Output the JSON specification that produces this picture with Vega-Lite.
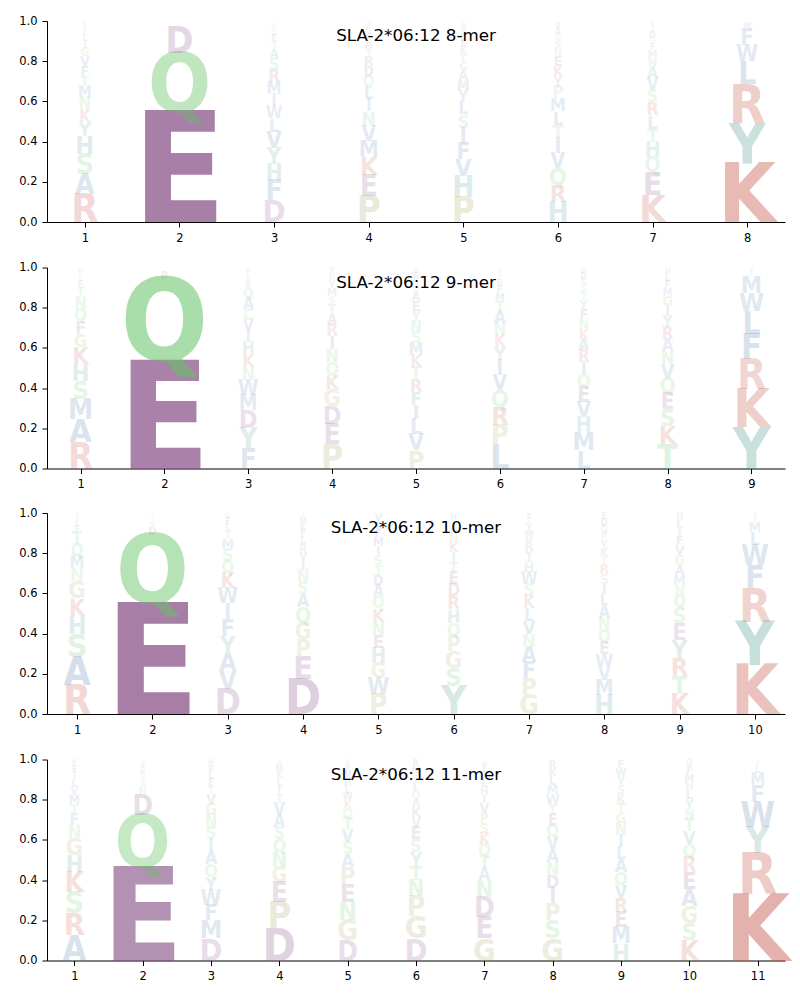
{
"$schema":"https://vega.github.io/schema/vega-lite/v6.json",
"padding":{"left":18,"top":15,"right":10,"bottom":5},
"spacing":8.5,
"config":{"view":{"stroke":null},"axis":{"grid":false,"domainColor":"black","tickColor":"black","labelColor":"black","labelFont":"DejaVu Sans","labelFontSize":11.5,"tickSize":5,"labelPadding":5,"title":null},"title":{"font":"DejaVu Sans","fontSize":16.7,"fontWeight":"normal","color":"black","anchor":"middle","baseline":"alphabetic","offset":-30}},
"data":{"values":[
{"n":8,"pos":1,"aa":"R","p":0.14},{"n":8,"pos":1,"aa":"A","p":0.10},{"n":8,"pos":1,"aa":"S","p":0.10},{"n":8,"pos":1,"aa":"H","p":0.09},{"n":8,"pos":1,"aa":"K","p":0.06},{"n":8,"pos":1,"aa":"M","p":0.055},{"n":8,"pos":1,"aa":"G","p":0.045},{"n":8,"pos":1,"aa":"Y","p":0.07},{"n":8,"pos":1,"aa":"T","p":0.05},{"n":8,"pos":1,"aa":"F","p":0.05},{"n":8,"pos":1,"aa":"N","p":0.06},{"n":8,"pos":1,"aa":"V","p":0.05},{"n":8,"pos":1,"aa":"I","p":0.03},{"n":8,"pos":1,"aa":"L","p":0.03},{"n":8,"pos":1,"aa":"E","p":0.025},{"n":8,"pos":1,"aa":"Q","p":0.02},{"n":8,"pos":1,"aa":"W","p":0.015},{"n":8,"pos":1,"aa":"D","p":0.01},
{"n":8,"pos":2,"aa":"E","p":0.545},{"n":8,"pos":2,"aa":"Q","p":0.295},{"n":8,"pos":2,"aa":"D","p":0.135},{"n":8,"pos":2,"aa":"N","p":0.01},{"n":8,"pos":2,"aa":"S","p":0.008},{"n":8,"pos":2,"aa":"T","p":0.007},
{"n":8,"pos":3,"aa":"D","p":0.11},{"n":8,"pos":3,"aa":"F","p":0.10},{"n":8,"pos":3,"aa":"H","p":0.08},{"n":8,"pos":3,"aa":"Y","p":0.08},{"n":8,"pos":3,"aa":"W","p":0.06},{"n":8,"pos":3,"aa":"I","p":0.06},{"n":8,"pos":3,"aa":"M","p":0.06},{"n":8,"pos":3,"aa":"A","p":0.045},{"n":8,"pos":3,"aa":"R","p":0.06},{"n":8,"pos":3,"aa":"L","p":0.065},{"n":8,"pos":3,"aa":"S","p":0.06},{"n":8,"pos":3,"aa":"V","p":0.08},{"n":8,"pos":3,"aa":"T","p":0.04},{"n":8,"pos":3,"aa":"E","p":0.03},{"n":8,"pos":3,"aa":"Q","p":0.03},{"n":8,"pos":3,"aa":"P","p":0.02},{"n":8,"pos":3,"aa":"C","p":0.015},{"n":8,"pos":3,"aa":"K","p":0.005},
{"n":8,"pos":4,"aa":"P","p":0.13},{"n":8,"pos":4,"aa":"E","p":0.105},{"n":8,"pos":4,"aa":"K","p":0.09},{"n":8,"pos":4,"aa":"V","p":0.075},{"n":8,"pos":4,"aa":"I","p":0.06},{"n":8,"pos":4,"aa":"L","p":0.06},{"n":8,"pos":4,"aa":"Q","p":0.055},{"n":8,"pos":4,"aa":"D","p":0.05},{"n":8,"pos":4,"aa":"T","p":0.04},{"n":8,"pos":4,"aa":"R","p":0.05},{"n":8,"pos":4,"aa":"N","p":0.07},{"n":8,"pos":4,"aa":"M","p":0.08},{"n":8,"pos":4,"aa":"A","p":0.04},{"n":8,"pos":4,"aa":"S","p":0.03},{"n":8,"pos":4,"aa":"G","p":0.03},{"n":8,"pos":4,"aa":"H","p":0.02},{"n":8,"pos":4,"aa":"W","p":0.015},
{"n":8,"pos":5,"aa":"P","p":0.125},{"n":8,"pos":5,"aa":"H","p":0.105},{"n":8,"pos":5,"aa":"V","p":0.085},{"n":8,"pos":5,"aa":"I","p":0.075},{"n":8,"pos":5,"aa":"F","p":0.08},{"n":8,"pos":5,"aa":"L","p":0.06},{"n":8,"pos":5,"aa":"Y","p":0.06},{"n":8,"pos":5,"aa":"G","p":0.04},{"n":8,"pos":5,"aa":"M","p":0.05},{"n":8,"pos":5,"aa":"A","p":0.05},{"n":8,"pos":5,"aa":"K","p":0.035},{"n":8,"pos":5,"aa":"S","p":0.065},{"n":8,"pos":5,"aa":"T","p":0.04},{"n":8,"pos":5,"aa":"E","p":0.03},{"n":8,"pos":5,"aa":"D","p":0.03},{"n":8,"pos":5,"aa":"N","p":0.03},{"n":8,"pos":5,"aa":"W","p":0.02},{"n":8,"pos":5,"aa":"Q","p":0.02},
{"n":8,"pos":6,"aa":"H","p":0.10},{"n":8,"pos":6,"aa":"R","p":0.085},{"n":8,"pos":6,"aa":"Q","p":0.085},{"n":8,"pos":6,"aa":"V","p":0.075},{"n":8,"pos":6,"aa":"I","p":0.075},{"n":8,"pos":6,"aa":"T","p":0.065},{"n":8,"pos":6,"aa":"L","p":0.065},{"n":8,"pos":6,"aa":"P","p":0.06},{"n":8,"pos":6,"aa":"M","p":0.065},{"n":8,"pos":6,"aa":"Y","p":0.05},{"n":8,"pos":6,"aa":"K","p":0.05},{"n":8,"pos":6,"aa":"E","p":0.05},{"n":8,"pos":6,"aa":"N","p":0.04},{"n":8,"pos":6,"aa":"S","p":0.04},{"n":8,"pos":6,"aa":"G","p":0.03},{"n":8,"pos":6,"aa":"A","p":0.03},{"n":8,"pos":6,"aa":"D","p":0.025},{"n":8,"pos":6,"aa":"F","p":0.01},
{"n":8,"pos":7,"aa":"K","p":0.135},{"n":8,"pos":7,"aa":"E","p":0.115},{"n":8,"pos":7,"aa":"Q","p":0.075},{"n":8,"pos":7,"aa":"H","p":0.075},{"n":8,"pos":7,"aa":"T","p":0.065},{"n":8,"pos":7,"aa":"L","p":0.065},{"n":8,"pos":7,"aa":"R","p":0.065},{"n":8,"pos":7,"aa":"S","p":0.06},{"n":8,"pos":7,"aa":"V","p":0.06},{"n":8,"pos":7,"aa":"A","p":0.055},{"n":8,"pos":7,"aa":"N","p":0.045},{"n":8,"pos":7,"aa":"M","p":0.04},{"n":8,"pos":7,"aa":"F","p":0.03},{"n":8,"pos":7,"aa":"G","p":0.03},{"n":8,"pos":7,"aa":"D","p":0.03},{"n":8,"pos":7,"aa":"I","p":0.03},{"n":8,"pos":7,"aa":"P","p":0.025},
{"n":8,"pos":8,"aa":"K","p":0.295},{"n":8,"pos":8,"aa":"Y","p":0.20},{"n":8,"pos":8,"aa":"R","p":0.19},{"n":8,"pos":8,"aa":"L","p":0.115},{"n":8,"pos":8,"aa":"W","p":0.08},{"n":8,"pos":8,"aa":"F","p":0.079},{"n":8,"pos":8,"aa":"M","p":0.03},{"n":8,"pos":8,"aa":"I","p":0.01},
{"n":9,"pos":1,"aa":"R","p":0.13},{"n":9,"pos":1,"aa":"A","p":0.115},{"n":9,"pos":1,"aa":"S","p":0.09},{"n":9,"pos":1,"aa":"M","p":0.10},{"n":9,"pos":1,"aa":"H","p":0.085},{"n":9,"pos":1,"aa":"K","p":0.085},{"n":9,"pos":1,"aa":"G","p":0.065},{"n":9,"pos":1,"aa":"Q","p":0.06},{"n":9,"pos":1,"aa":"T","p":0.05},{"n":9,"pos":1,"aa":"F","p":0.065},{"n":9,"pos":1,"aa":"N","p":0.06},{"n":9,"pos":1,"aa":"E","p":0.03},{"n":9,"pos":1,"aa":"L","p":0.025},{"n":9,"pos":1,"aa":"Y","p":0.02},{"n":9,"pos":1,"aa":"W","p":0.02},
{"n":9,"pos":2,"aa":"E","p":0.535},{"n":9,"pos":2,"aa":"Q","p":0.41},{"n":9,"pos":2,"aa":"D","p":0.035},{"n":9,"pos":2,"aa":"N","p":0.012},{"n":9,"pos":2,"aa":"S","p":0.008},
{"n":9,"pos":3,"aa":"F","p":0.10},{"n":9,"pos":3,"aa":"Y","p":0.10},{"n":9,"pos":3,"aa":"D","p":0.09},{"n":9,"pos":3,"aa":"M","p":0.075},{"n":9,"pos":3,"aa":"W","p":0.075},{"n":9,"pos":3,"aa":"H","p":0.06},{"n":9,"pos":3,"aa":"N","p":0.065},{"n":9,"pos":3,"aa":"I","p":0.055},{"n":9,"pos":3,"aa":"K","p":0.065},{"n":9,"pos":3,"aa":"Q","p":0.05},{"n":9,"pos":3,"aa":"V","p":0.055},{"n":9,"pos":3,"aa":"C","p":0.055},{"n":9,"pos":3,"aa":"A","p":0.055},{"n":9,"pos":3,"aa":"R","p":0.03},{"n":9,"pos":3,"aa":"T","p":0.025},{"n":9,"pos":3,"aa":"L","p":0.025},{"n":9,"pos":3,"aa":"E","p":0.02},
{"n":9,"pos":4,"aa":"P","p":0.12},{"n":9,"pos":4,"aa":"E","p":0.10},{"n":9,"pos":4,"aa":"D","p":0.09},{"n":9,"pos":4,"aa":"G","p":0.085},{"n":9,"pos":4,"aa":"K","p":0.07},{"n":9,"pos":4,"aa":"Q","p":0.065},{"n":9,"pos":4,"aa":"R","p":0.06},{"n":9,"pos":4,"aa":"S","p":0.04},{"n":9,"pos":4,"aa":"A","p":0.05},{"n":9,"pos":4,"aa":"N","p":0.065},{"n":9,"pos":4,"aa":"I","p":0.065},{"n":9,"pos":4,"aa":"T","p":0.05},{"n":9,"pos":4,"aa":"M","p":0.04},{"n":9,"pos":4,"aa":"Y","p":0.04},{"n":9,"pos":4,"aa":"H","p":0.03},{"n":9,"pos":4,"aa":"F","p":0.03},
{"n":9,"pos":5,"aa":"P","p":0.09},{"n":9,"pos":5,"aa":"V","p":0.08},{"n":9,"pos":5,"aa":"L","p":0.075},{"n":9,"pos":5,"aa":"I","p":0.07},{"n":9,"pos":5,"aa":"F","p":0.065},{"n":9,"pos":5,"aa":"T","p":0.06},{"n":9,"pos":5,"aa":"R","p":0.065},{"n":9,"pos":5,"aa":"K","p":0.06},{"n":9,"pos":5,"aa":"M","p":0.06},{"n":9,"pos":5,"aa":"S","p":0.055},{"n":9,"pos":5,"aa":"N","p":0.055},{"n":9,"pos":5,"aa":"Y","p":0.05},{"n":9,"pos":5,"aa":"E","p":0.05},{"n":9,"pos":5,"aa":"A","p":0.045},{"n":9,"pos":5,"aa":"Q","p":0.035},{"n":9,"pos":5,"aa":"G","p":0.03},{"n":9,"pos":5,"aa":"W","p":0.03},{"n":9,"pos":5,"aa":"D","p":0.025},
{"n":9,"pos":6,"aa":"P","p":0.095},{"n":9,"pos":6,"aa":"V","p":0.075},{"n":9,"pos":6,"aa":"I","p":0.075},{"n":9,"pos":6,"aa":"Q","p":0.085},{"n":9,"pos":6,"aa":"K","p":0.06},{"n":9,"pos":6,"aa":"L","p":0.12},{"n":9,"pos":6,"aa":"T","p":0.05},{"n":9,"pos":6,"aa":"R","p":0.09},{"n":9,"pos":6,"aa":"N","p":0.06},{"n":9,"pos":6,"aa":"Y","p":0.065},{"n":9,"pos":6,"aa":"A","p":0.06},{"n":9,"pos":6,"aa":"M","p":0.04},{"n":9,"pos":6,"aa":"E","p":0.02},{"n":9,"pos":6,"aa":"S","p":0.02},{"n":9,"pos":6,"aa":"G","p":0.02},{"n":9,"pos":6,"aa":"F","p":0.035},{"n":9,"pos":6,"aa":"H","p":0.03},
{"n":9,"pos":7,"aa":"L","p":0.09},{"n":9,"pos":7,"aa":"M","p":0.09},{"n":9,"pos":7,"aa":"H","p":0.075},{"n":9,"pos":7,"aa":"V","p":0.075},{"n":9,"pos":7,"aa":"I","p":0.06},{"n":9,"pos":7,"aa":"Q","p":0.065},{"n":9,"pos":7,"aa":"E","p":0.075},{"n":9,"pos":7,"aa":"K","p":0.05},{"n":9,"pos":7,"aa":"N","p":0.05},{"n":9,"pos":7,"aa":"T","p":0.04},{"n":9,"pos":7,"aa":"R","p":0.06},{"n":9,"pos":7,"aa":"F","p":0.05},{"n":9,"pos":7,"aa":"A","p":0.055},{"n":9,"pos":7,"aa":"Y","p":0.045},{"n":9,"pos":7,"aa":"S","p":0.035},{"n":9,"pos":7,"aa":"G","p":0.03},{"n":9,"pos":7,"aa":"W","p":0.025},{"n":9,"pos":7,"aa":"D","p":0.03},
{"n":9,"pos":8,"aa":"T","p":0.12},{"n":9,"pos":8,"aa":"K","p":0.09},{"n":9,"pos":8,"aa":"S","p":0.085},{"n":9,"pos":8,"aa":"Q","p":0.075},{"n":9,"pos":8,"aa":"E","p":0.08},{"n":9,"pos":8,"aa":"A","p":0.06},{"n":9,"pos":8,"aa":"N","p":0.065},{"n":9,"pos":8,"aa":"R","p":0.06},{"n":9,"pos":8,"aa":"I","p":0.05},{"n":9,"pos":8,"aa":"V","p":0.07},{"n":9,"pos":8,"aa":"G","p":0.05},{"n":9,"pos":8,"aa":"Y","p":0.055},{"n":9,"pos":8,"aa":"M","p":0.04},{"n":9,"pos":8,"aa":"F","p":0.035},{"n":9,"pos":8,"aa":"H","p":0.03},{"n":9,"pos":8,"aa":"L","p":0.035},
{"n":9,"pos":9,"aa":"Y","p":0.205},{"n":9,"pos":9,"aa":"K","p":0.19},{"n":9,"pos":9,"aa":"R","p":0.15},{"n":9,"pos":9,"aa":"F","p":0.125},{"n":9,"pos":9,"aa":"L","p":0.115},{"n":9,"pos":9,"aa":"W","p":0.09},{"n":9,"pos":9,"aa":"M","p":0.085},{"n":9,"pos":9,"aa":"I","p":0.02},{"n":9,"pos":9,"aa":"V","p":0.02},
{"n":10,"pos":1,"aa":"R","p":0.145},{"n":10,"pos":1,"aa":"A","p":0.14},{"n":10,"pos":1,"aa":"S","p":0.115},{"n":10,"pos":1,"aa":"H","p":0.09},{"n":10,"pos":1,"aa":"K","p":0.085},{"n":10,"pos":1,"aa":"G","p":0.085},{"n":10,"pos":1,"aa":"M","p":0.06},{"n":10,"pos":1,"aa":"Q","p":0.06},{"n":10,"pos":1,"aa":"N","p":0.065},{"n":10,"pos":1,"aa":"T","p":0.06},{"n":10,"pos":1,"aa":"F","p":0.03},{"n":10,"pos":1,"aa":"L","p":0.025},{"n":10,"pos":1,"aa":"E","p":0.02},{"n":10,"pos":1,"aa":"Y","p":0.02},
{"n":10,"pos":2,"aa":"E","p":0.55},{"n":10,"pos":2,"aa":"Q","p":0.34},{"n":10,"pos":2,"aa":"D","p":0.04},{"n":10,"pos":2,"aa":"N","p":0.025},{"n":10,"pos":2,"aa":"S","p":0.02},{"n":10,"pos":2,"aa":"T","p":0.015},{"n":10,"pos":2,"aa":"H","p":0.01},
{"n":10,"pos":3,"aa":"D","p":0.125},{"n":10,"pos":3,"aa":"Y","p":0.085},{"n":10,"pos":3,"aa":"F","p":0.085},{"n":10,"pos":3,"aa":"I","p":0.075},{"n":10,"pos":3,"aa":"V","p":0.09},{"n":10,"pos":3,"aa":"M","p":0.05},{"n":10,"pos":3,"aa":"Q","p":0.06},{"n":10,"pos":3,"aa":"A","p":0.09},{"n":10,"pos":3,"aa":"W","p":0.075},{"n":10,"pos":3,"aa":"S","p":0.06},{"n":10,"pos":3,"aa":"K","p":0.075},{"n":10,"pos":3,"aa":"T","p":0.04},{"n":10,"pos":3,"aa":"L","p":0.035},{"n":10,"pos":3,"aa":"E","p":0.03},{"n":10,"pos":3,"aa":"G","p":0.025},
{"n":10,"pos":4,"aa":"D","p":0.175},{"n":10,"pos":4,"aa":"E","p":0.115},{"n":10,"pos":4,"aa":"P","p":0.085},{"n":10,"pos":4,"aa":"G","p":0.08},{"n":10,"pos":4,"aa":"Q","p":0.075},{"n":10,"pos":4,"aa":"S","p":0.06},{"n":10,"pos":4,"aa":"N","p":0.06},{"n":10,"pos":4,"aa":"A","p":0.065},{"n":10,"pos":4,"aa":"K","p":0.03},{"n":10,"pos":4,"aa":"I","p":0.05},{"n":10,"pos":4,"aa":"V","p":0.04},{"n":10,"pos":4,"aa":"L","p":0.035},{"n":10,"pos":4,"aa":"M","p":0.03},{"n":10,"pos":4,"aa":"T","p":0.025},{"n":10,"pos":4,"aa":"R","p":0.04},{"n":10,"pos":4,"aa":"F","p":0.035},
{"n":10,"pos":5,"aa":"P","p":0.10},{"n":10,"pos":5,"aa":"G","p":0.075},{"n":10,"pos":5,"aa":"E","p":0.065},{"n":10,"pos":5,"aa":"H","p":0.075},{"n":10,"pos":5,"aa":"D","p":0.05},{"n":10,"pos":5,"aa":"N","p":0.065},{"n":10,"pos":5,"aa":"A","p":0.055},{"n":10,"pos":5,"aa":"I","p":0.045},{"n":10,"pos":5,"aa":"T","p":0.05},{"n":10,"pos":5,"aa":"K","p":0.065},{"n":10,"pos":5,"aa":"Q","p":0.06},{"n":10,"pos":5,"aa":"S","p":0.05},{"n":10,"pos":5,"aa":"W","p":0.08},{"n":10,"pos":5,"aa":"M","p":0.045},{"n":10,"pos":5,"aa":"F","p":0.04},{"n":10,"pos":5,"aa":"L","p":0.04},{"n":10,"pos":5,"aa":"V","p":0.04},
{"n":10,"pos":6,"aa":"G","p":0.085},{"n":10,"pos":6,"aa":"Q","p":0.065},{"n":10,"pos":6,"aa":"Y","p":0.14},{"n":10,"pos":6,"aa":"P","p":0.075},{"n":10,"pos":6,"aa":"D","p":0.06},{"n":10,"pos":6,"aa":"T","p":0.05},{"n":10,"pos":6,"aa":"H","p":0.065},{"n":10,"pos":6,"aa":"E","p":0.06},{"n":10,"pos":6,"aa":"R","p":0.065},{"n":10,"pos":6,"aa":"S","p":0.09},{"n":10,"pos":6,"aa":"I","p":0.05},{"n":10,"pos":6,"aa":"K","p":0.05},{"n":10,"pos":6,"aa":"N","p":0.045},{"n":10,"pos":6,"aa":"A","p":0.04},{"n":10,"pos":6,"aa":"V","p":0.03},{"n":10,"pos":6,"aa":"M","p":0.025},{"n":10,"pos":6,"aa":"L","p":0.005},
{"n":10,"pos":7,"aa":"G","p":0.095},{"n":10,"pos":7,"aa":"P","p":0.085},{"n":10,"pos":7,"aa":"N","p":0.065},{"n":10,"pos":7,"aa":"V","p":0.065},{"n":10,"pos":7,"aa":"L","p":0.06},{"n":10,"pos":7,"aa":"K","p":0.06},{"n":10,"pos":7,"aa":"I","p":0.04},{"n":10,"pos":7,"aa":"F","p":0.08},{"n":10,"pos":7,"aa":"A","p":0.075},{"n":10,"pos":7,"aa":"D","p":0.04},{"n":10,"pos":7,"aa":"H","p":0.05},{"n":10,"pos":7,"aa":"S","p":0.06},{"n":10,"pos":7,"aa":"W","p":0.06},{"n":10,"pos":7,"aa":"R","p":0.04},{"n":10,"pos":7,"aa":"M","p":0.035},{"n":10,"pos":7,"aa":"Y","p":0.035},{"n":10,"pos":7,"aa":"T","p":0.03},{"n":10,"pos":7,"aa":"E","p":0.025},
{"n":10,"pos":8,"aa":"H","p":0.095},{"n":10,"pos":8,"aa":"E","p":0.06},{"n":10,"pos":8,"aa":"L","p":0.055},{"n":10,"pos":8,"aa":"Q","p":0.06},{"n":10,"pos":8,"aa":"M","p":0.075},{"n":10,"pos":8,"aa":"I","p":0.05},{"n":10,"pos":8,"aa":"N","p":0.06},{"n":10,"pos":8,"aa":"V","p":0.065},{"n":10,"pos":8,"aa":"S","p":0.05},{"n":10,"pos":8,"aa":"R","p":0.05},{"n":10,"pos":8,"aa":"T","p":0.04},{"n":10,"pos":8,"aa":"A","p":0.06},{"n":10,"pos":8,"aa":"K","p":0.04},{"n":10,"pos":8,"aa":"W","p":0.065},{"n":10,"pos":8,"aa":"Y","p":0.04},{"n":10,"pos":8,"aa":"P","p":0.035},{"n":10,"pos":8,"aa":"G","p":0.035},{"n":10,"pos":8,"aa":"D","p":0.035},{"n":10,"pos":8,"aa":"F","p":0.03},
{"n":10,"pos":9,"aa":"K","p":0.10},{"n":10,"pos":9,"aa":"T","p":0.09},{"n":10,"pos":9,"aa":"E","p":0.085},{"n":10,"pos":9,"aa":"R","p":0.09},{"n":10,"pos":9,"aa":"Q","p":0.06},{"n":10,"pos":9,"aa":"S","p":0.075},{"n":10,"pos":9,"aa":"N","p":0.05},{"n":10,"pos":9,"aa":"M","p":0.05},{"n":10,"pos":9,"aa":"A","p":0.05},{"n":10,"pos":9,"aa":"G","p":0.05},{"n":10,"pos":9,"aa":"I","p":0.04},{"n":10,"pos":9,"aa":"Y","p":0.09},{"n":10,"pos":9,"aa":"V","p":0.05},{"n":10,"pos":9,"aa":"F","p":0.045},{"n":10,"pos":9,"aa":"L","p":0.04},{"n":10,"pos":9,"aa":"H","p":0.035},
{"n":10,"pos":10,"aa":"K","p":0.245},{"n":10,"pos":10,"aa":"Y","p":0.215},{"n":10,"pos":10,"aa":"R","p":0.165},{"n":10,"pos":10,"aa":"F","p":0.115},{"n":10,"pos":10,"aa":"W","p":0.10},{"n":10,"pos":10,"aa":"L","p":0.065},{"n":10,"pos":10,"aa":"M","p":0.05},{"n":10,"pos":10,"aa":"I","p":0.025},{"n":10,"pos":10,"aa":"V","p":0.02},
{"n":11,"pos":1,"aa":"A","p":0.125},{"n":11,"pos":1,"aa":"R","p":0.11},{"n":11,"pos":1,"aa":"S","p":0.105},{"n":11,"pos":1,"aa":"K","p":0.10},{"n":11,"pos":1,"aa":"H","p":0.085},{"n":11,"pos":1,"aa":"G","p":0.085},{"n":11,"pos":1,"aa":"N","p":0.065},{"n":11,"pos":1,"aa":"T","p":0.05},{"n":11,"pos":1,"aa":"F","p":0.055},{"n":11,"pos":1,"aa":"M","p":0.045},{"n":11,"pos":1,"aa":"V","p":0.04},{"n":11,"pos":1,"aa":"L","p":0.04},{"n":11,"pos":1,"aa":"I","p":0.035},{"n":11,"pos":1,"aa":"E","p":0.03},{"n":11,"pos":1,"aa":"Y","p":0.03},
{"n":11,"pos":2,"aa":"E","p":0.465},{"n":11,"pos":2,"aa":"Q","p":0.26},{"n":11,"pos":2,"aa":"D","p":0.10},{"n":11,"pos":2,"aa":"N","p":0.04},{"n":11,"pos":2,"aa":"S","p":0.035},{"n":11,"pos":2,"aa":"T","p":0.03},{"n":11,"pos":2,"aa":"H","p":0.025},{"n":11,"pos":2,"aa":"A","p":0.025},{"n":11,"pos":2,"aa":"G","p":0.02},
{"n":11,"pos":3,"aa":"D","p":0.11},{"n":11,"pos":3,"aa":"M","p":0.09},{"n":11,"pos":3,"aa":"F","p":0.075},{"n":11,"pos":3,"aa":"W","p":0.075},{"n":11,"pos":3,"aa":"Y","p":0.065},{"n":11,"pos":3,"aa":"I","p":0.06},{"n":11,"pos":3,"aa":"Q","p":0.065},{"n":11,"pos":3,"aa":"V","p":0.05},{"n":11,"pos":3,"aa":"S","p":0.06},{"n":11,"pos":3,"aa":"N","p":0.06},{"n":11,"pos":3,"aa":"E","p":0.035},{"n":11,"pos":3,"aa":"G","p":0.055},{"n":11,"pos":3,"aa":"A","p":0.065},{"n":11,"pos":3,"aa":"T","p":0.04},{"n":11,"pos":3,"aa":"L","p":0.035},{"n":11,"pos":3,"aa":"R","p":0.03},{"n":11,"pos":3,"aa":"H","p":0.03},
{"n":11,"pos":4,"aa":"D","p":0.16},{"n":11,"pos":4,"aa":"P","p":0.13},{"n":11,"pos":4,"aa":"E","p":0.10},{"n":11,"pos":4,"aa":"G","p":0.075},{"n":11,"pos":4,"aa":"N","p":0.075},{"n":11,"pos":4,"aa":"S","p":0.06},{"n":11,"pos":4,"aa":"A","p":0.06},{"n":11,"pos":4,"aa":"Q","p":0.065},{"n":11,"pos":4,"aa":"I","p":0.04},{"n":11,"pos":4,"aa":"V","p":0.06},{"n":11,"pos":4,"aa":"T","p":0.045},{"n":11,"pos":4,"aa":"L","p":0.04},{"n":11,"pos":4,"aa":"K","p":0.03},{"n":11,"pos":4,"aa":"M","p":0.03},{"n":11,"pos":4,"aa":"R","p":0.025},{"n":11,"pos":4,"aa":"H","p":0.005},
{"n":11,"pos":5,"aa":"D","p":0.10},{"n":11,"pos":5,"aa":"G","p":0.10},{"n":11,"pos":5,"aa":"P","p":0.085},{"n":11,"pos":5,"aa":"N","p":0.09},{"n":11,"pos":5,"aa":"E","p":0.09},{"n":11,"pos":5,"aa":"S","p":0.06},{"n":11,"pos":5,"aa":"A","p":0.065},{"n":11,"pos":5,"aa":"Q","p":0.05},{"n":11,"pos":5,"aa":"V","p":0.06},{"n":11,"pos":5,"aa":"T","p":0.06},{"n":11,"pos":5,"aa":"K","p":0.04},{"n":11,"pos":5,"aa":"W","p":0.035},{"n":11,"pos":5,"aa":"L","p":0.035},{"n":11,"pos":5,"aa":"R","p":0.03},{"n":11,"pos":5,"aa":"H","p":0.035},{"n":11,"pos":5,"aa":"M","p":0.035},{"n":11,"pos":5,"aa":"I","p":0.03},
{"n":11,"pos":6,"aa":"D","p":0.11},{"n":11,"pos":6,"aa":"G","p":0.11},{"n":11,"pos":6,"aa":"P","p":0.10},{"n":11,"pos":6,"aa":"E","p":0.06},{"n":11,"pos":6,"aa":"T","p":0.07},{"n":11,"pos":6,"aa":"S","p":0.065},{"n":11,"pos":6,"aa":"N","p":0.08},{"n":11,"pos":6,"aa":"V","p":0.05},{"n":11,"pos":6,"aa":"Y","p":0.07},{"n":11,"pos":6,"aa":"K","p":0.05},{"n":11,"pos":6,"aa":"A","p":0.04},{"n":11,"pos":6,"aa":"Q","p":0.04},{"n":11,"pos":6,"aa":"R","p":0.035},{"n":11,"pos":6,"aa":"L","p":0.04},{"n":11,"pos":6,"aa":"I","p":0.04},{"n":11,"pos":6,"aa":"M","p":0.04},
{"n":11,"pos":7,"aa":"G","p":0.11},{"n":11,"pos":7,"aa":"D","p":0.10},{"n":11,"pos":7,"aa":"E","p":0.105},{"n":11,"pos":7,"aa":"N","p":0.085},{"n":11,"pos":7,"aa":"S","p":0.05},{"n":11,"pos":7,"aa":"P","p":0.05},{"n":11,"pos":7,"aa":"A","p":0.06},{"n":11,"pos":7,"aa":"K","p":0.055},{"n":11,"pos":7,"aa":"T","p":0.06},{"n":11,"pos":7,"aa":"Q","p":0.06},{"n":11,"pos":7,"aa":"V","p":0.05},{"n":11,"pos":7,"aa":"I","p":0.04},{"n":11,"pos":7,"aa":"H","p":0.04},{"n":11,"pos":7,"aa":"L","p":0.04},{"n":11,"pos":7,"aa":"F","p":0.035},{"n":11,"pos":7,"aa":"Y","p":0.035},{"n":11,"pos":7,"aa":"M","p":0.02},{"n":11,"pos":7,"aa":"R","p":0.005},
{"n":11,"pos":8,"aa":"G","p":0.11},{"n":11,"pos":8,"aa":"P","p":0.085},{"n":11,"pos":8,"aa":"I","p":0.075},{"n":11,"pos":8,"aa":"D","p":0.065},{"n":11,"pos":8,"aa":"N","p":0.065},{"n":11,"pos":8,"aa":"V","p":0.06},{"n":11,"pos":8,"aa":"S","p":0.09},{"n":11,"pos":8,"aa":"E","p":0.055},{"n":11,"pos":8,"aa":"A","p":0.065},{"n":11,"pos":8,"aa":"Q","p":0.06},{"n":11,"pos":8,"aa":"T","p":0.05},{"n":11,"pos":8,"aa":"W","p":0.05},{"n":11,"pos":8,"aa":"M","p":0.045},{"n":11,"pos":8,"aa":"L","p":0.045},{"n":11,"pos":8,"aa":"K","p":0.04},{"n":11,"pos":8,"aa":"R","p":0.04},
{"n":11,"pos":9,"aa":"H","p":0.085},{"n":11,"pos":9,"aa":"V","p":0.065},{"n":11,"pos":9,"aa":"E","p":0.075},{"n":11,"pos":9,"aa":"L","p":0.06},{"n":11,"pos":9,"aa":"Q","p":0.065},{"n":11,"pos":9,"aa":"G","p":0.05},{"n":11,"pos":9,"aa":"I","p":0.06},{"n":11,"pos":9,"aa":"N","p":0.06},{"n":11,"pos":9,"aa":"R","p":0.07},{"n":11,"pos":9,"aa":"K","p":0.045},{"n":11,"pos":9,"aa":"A","p":0.065},{"n":11,"pos":9,"aa":"M","p":0.08},{"n":11,"pos":9,"aa":"T","p":0.05},{"n":11,"pos":9,"aa":"S","p":0.045},{"n":11,"pos":9,"aa":"Y","p":0.045},{"n":11,"pos":9,"aa":"W","p":0.04},{"n":11,"pos":9,"aa":"F","p":0.04},
{"n":11,"pos":10,"aa":"S","p":0.085},{"n":11,"pos":10,"aa":"G","p":0.085},{"n":11,"pos":10,"aa":"A","p":0.085},{"n":11,"pos":10,"aa":"E","p":0.085},{"n":11,"pos":10,"aa":"T","p":0.06},{"n":11,"pos":10,"aa":"K","p":0.10},{"n":11,"pos":10,"aa":"Q","p":0.065},{"n":11,"pos":10,"aa":"R","p":0.075},{"n":11,"pos":10,"aa":"N","p":0.05},{"n":11,"pos":10,"aa":"V","p":0.065},{"n":11,"pos":10,"aa":"Y","p":0.05},{"n":11,"pos":10,"aa":"L","p":0.045},{"n":11,"pos":10,"aa":"H","p":0.04},{"n":11,"pos":10,"aa":"M","p":0.04},{"n":11,"pos":10,"aa":"F","p":0.04},{"n":11,"pos":10,"aa":"D","p":0.03},
{"n":11,"pos":11,"aa":"K","p":0.33},{"n":11,"pos":11,"aa":"R","p":0.205},{"n":11,"pos":11,"aa":"Y","p":0.13},{"n":11,"pos":11,"aa":"W","p":0.125},{"n":11,"pos":11,"aa":"F","p":0.085},{"n":11,"pos":11,"aa":"M","p":0.06},{"n":11,"pos":11,"aa":"L","p":0.035},{"n":11,"pos":11,"aa":"I","p":0.015},{"n":11,"pos":11,"aa":"V","p":0.015}
]},
"vconcat":[
{"title":"SLA-2*06:12 8-mer","width":738,"height":201,
 "transform":[{"filter":"datum.n == 8"},{"stack":"p","groupby":["pos"],"sort":[{"field":"p","order":"descending"}],"as":["y0","y1"]}],
 "mark":{"type":"text","font":"Liberation Sans Narrow, DejaVu Sans Condensed, DejaVu Sans","fontWeight":"bold","align":"center","baseline":"alphabetic"},
 "encoding":{
  "x":{"field":"pos","type":"quantitative","scale":{"domain":[0.6,8.4],"nice":false,"zero":false},"axis":{"values":[1,2,3,4,5,6,7,8],"format":"d"}},
  "y":{"field":"y0","type":"quantitative","scale":{"domain":[0,1],"nice":false},"axis":{"values":[0,0.2,0.4,0.6,0.8,1],"format":".1f"}},
  "text":{"field":"aa"},
  "color":{"field":"aa","type":"nominal","legend":null,"scale":{"domain":["A","C","D","E","F","G","H","I","K","L","M","N","P","Q","R","S","T","V","W","Y"],"range":["#4673aa","#64c364","#854d85","#854d85","#4673aa","#a0a055","#469696","#4673aa","#c55748","#4673aa","#4673aa","#64c364","#a0a055","#64c364","#c55748","#64c364","#64c364","#4673aa","#4673aa","#4f9b8d"]}},
  "opacity":{"field":"p","type":"quantitative","legend":null,"scale":{"domain":[0,0.55],"range":[0.05,0.72],"clamp":true}},
  "size":{"field":"p","type":"quantitative","legend":null,"scale":{"domain":[0,1],"range":[0,280]}}
 }},
{"title":"SLA-2*06:12 9-mer","width":738,"height":201,
 "transform":[{"filter":"datum.n == 9"},{"stack":"p","groupby":["pos"],"sort":[{"field":"p","order":"descending"}],"as":["y0","y1"]}],
 "mark":{"type":"text","font":"Liberation Sans Narrow, DejaVu Sans Condensed, DejaVu Sans","fontWeight":"bold","align":"center","baseline":"alphabetic"},
 "encoding":{
  "x":{"field":"pos","type":"quantitative","scale":{"domain":[0.6,9.4],"nice":false,"zero":false},"axis":{"values":[1,2,3,4,5,6,7,8,9],"format":"d"}},
  "y":{"field":"y0","type":"quantitative","scale":{"domain":[0,1],"nice":false},"axis":{"values":[0,0.2,0.4,0.6,0.8,1],"format":".1f"}},
  "text":{"field":"aa"},
  "color":{"field":"aa","type":"nominal","legend":null,"scale":{"domain":["A","C","D","E","F","G","H","I","K","L","M","N","P","Q","R","S","T","V","W","Y"],"range":["#4673aa","#64c364","#854d85","#854d85","#4673aa","#a0a055","#469696","#4673aa","#c55748","#4673aa","#4673aa","#64c364","#a0a055","#64c364","#c55748","#64c364","#64c364","#4673aa","#4673aa","#4f9b8d"]}},
  "opacity":{"field":"p","type":"quantitative","legend":null,"scale":{"domain":[0,0.55],"range":[0.05,0.72],"clamp":true}},
  "size":{"field":"p","type":"quantitative","legend":null,"scale":{"domain":[0,1],"range":[0,280]}}
 }},
{"title":"SLA-2*06:12 10-mer","width":738,"height":201,
 "transform":[{"filter":"datum.n == 10"},{"stack":"p","groupby":["pos"],"sort":[{"field":"p","order":"descending"}],"as":["y0","y1"]}],
 "mark":{"type":"text","font":"Liberation Sans Narrow, DejaVu Sans Condensed, DejaVu Sans","fontWeight":"bold","align":"center","baseline":"alphabetic"},
 "encoding":{
  "x":{"field":"pos","type":"quantitative","scale":{"domain":[0.6,10.4],"nice":false,"zero":false},"axis":{"values":[1,2,3,4,5,6,7,8,9,10],"format":"d"}},
  "y":{"field":"y0","type":"quantitative","scale":{"domain":[0,1],"nice":false},"axis":{"values":[0,0.2,0.4,0.6,0.8,1],"format":".1f"}},
  "text":{"field":"aa"},
  "color":{"field":"aa","type":"nominal","legend":null,"scale":{"domain":["A","C","D","E","F","G","H","I","K","L","M","N","P","Q","R","S","T","V","W","Y"],"range":["#4673aa","#64c364","#854d85","#854d85","#4673aa","#a0a055","#469696","#4673aa","#c55748","#4673aa","#4673aa","#64c364","#a0a055","#64c364","#c55748","#64c364","#64c364","#4673aa","#4673aa","#4f9b8d"]}},
  "opacity":{"field":"p","type":"quantitative","legend":null,"scale":{"domain":[0,0.55],"range":[0.05,0.72],"clamp":true}},
  "size":{"field":"p","type":"quantitative","legend":null,"scale":{"domain":[0,1],"range":[0,280]}}
 }},
{"title":"SLA-2*06:12 11-mer","width":738,"height":201,
 "transform":[{"filter":"datum.n == 11"},{"stack":"p","groupby":["pos"],"sort":[{"field":"p","order":"descending"}],"as":["y0","y1"]}],
 "mark":{"type":"text","font":"Liberation Sans Narrow, DejaVu Sans Condensed, DejaVu Sans","fontWeight":"bold","align":"center","baseline":"alphabetic"},
 "encoding":{
  "x":{"field":"pos","type":"quantitative","scale":{"domain":[0.6,11.4],"nice":false,"zero":false},"axis":{"values":[1,2,3,4,5,6,7,8,9,10,11],"format":"d"}},
  "y":{"field":"y0","type":"quantitative","scale":{"domain":[0,1],"nice":false},"axis":{"values":[0,0.2,0.4,0.6,0.8,1],"format":".1f"}},
  "text":{"field":"aa"},
  "color":{"field":"aa","type":"nominal","legend":null,"scale":{"domain":["A","C","D","E","F","G","H","I","K","L","M","N","P","Q","R","S","T","V","W","Y"],"range":["#4673aa","#64c364","#854d85","#854d85","#4673aa","#a0a055","#469696","#4673aa","#c55748","#4673aa","#4673aa","#64c364","#a0a055","#64c364","#c55748","#64c364","#64c364","#4673aa","#4673aa","#4f9b8d"]}},
  "opacity":{"field":"p","type":"quantitative","legend":null,"scale":{"domain":[0,0.55],"range":[0.05,0.72],"clamp":true}},
  "size":{"field":"p","type":"quantitative","legend":null,"scale":{"domain":[0,1],"range":[0,280]}}
 }}
]
}
